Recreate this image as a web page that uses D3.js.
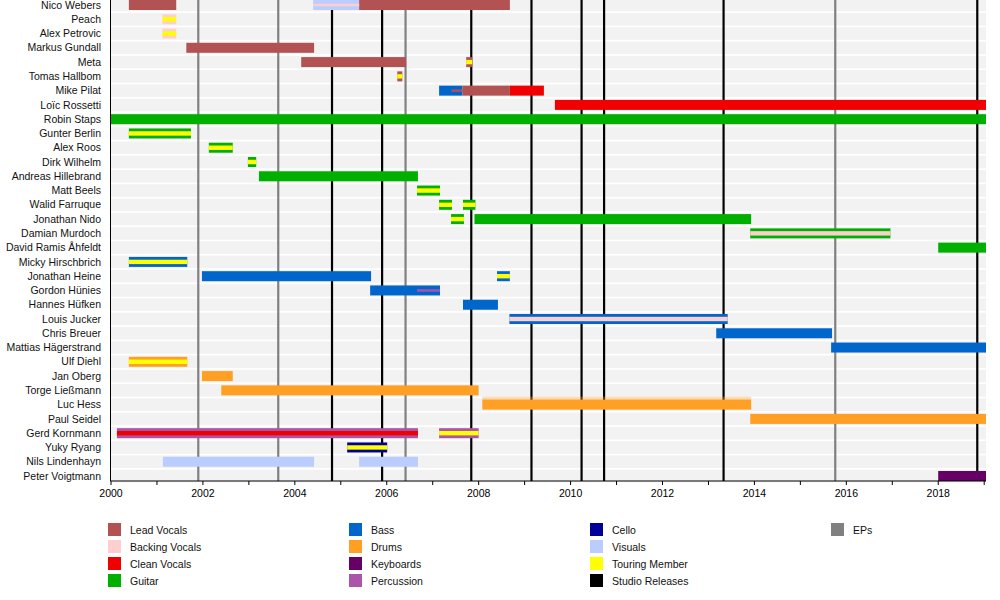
<!DOCTYPE html>
<html>
<head>
<meta charset="utf-8">
<script src="https://cdn.jsdelivr.net/npm/d3@7/dist/d3.min.js"></script>
<style>
  body { margin: 0; background: #fff; }
  svg { display: block; font-family: "Liberation Sans", Arial, sans-serif; }
  .tick text { font-size: 10.5px; fill: #000; }
  .name { font-size: 10.5px; fill: #111; }
  .legend text { font-size: 10.5px; fill: #111; }
</style>
</head>
<body>
<svg id="chart" width="1000" height="600"></svg>
<script>
const END = 2019.05

const members = [
  'Nico Webers', 'Peach', 'Alex Petrovic', 'Markus Gundall', 'Meta', 'Tomas Hallbom',
  'Mike Pilat', 'Loïc Rossetti', 'Robin Staps', 'Gunter Berlin', 'Alex Roos', 'Dirk Wilhelm',
  'Andreas Hillebrand', 'Matt Beels', 'Walid Farruque', 'Jonathan Nido', 'Damian Murdoch',
  'David Ramis Åhfeldt', 'Micky Hirschbrich', 'Jonathan Heine', 'Gordon Hünies', 'Hannes Hüfken',
  'Louis Jucker', 'Chris Breuer', 'Mattias Hägerstrand', 'Ulf Diehl', 'Jan Oberg',
  'Torge Ließmann', 'Luc Hess', 'Paul Seidel', 'Gerd Kornmann', 'Yuky Ryang',
  'Nils Lindenhayn', 'Peter Voigtmann'
]

const roles = [
  'Lead Vocals', 'Backing Vocals', 'Clean Vocals', 'Guitar',
  'Bass', 'Drums', 'Keyboards', 'Percussion',
  'Cello', 'Visuals', 'Touring Member', 'Studio Releases',
  'EPs'
]
const roleColors = [
  '#b25252', '#ffcfcf', '#f00000', '#00b000',
  '#0066cc', '#ffa024', '#660066', '#aa55aa',
  '#000099', '#bbccff', '#ffff00', '#000000',
  '#808080'
]

// full height bars: member, role, from, to
const periods = [
  ['Nico Webers', 'Lead Vocals', 2000.40, 2001.43],
  ['Nico Webers', 'Visuals', 2004.41, 2005.41],
  ['Nico Webers', 'Lead Vocals', 2005.41, 2008.69],
  ['Peach', 'Backing Vocals', 2001.13, 2001.43],
  ['Alex Petrovic', 'Backing Vocals', 2001.13, 2001.43],
  ['Markus Gundall', 'Lead Vocals', 2001.65, 2004.43],
  ['Meta', 'Lead Vocals', 2004.15, 2006.43],
  ['Meta', 'Lead Vocals', 2007.74, 2007.87],
  ['Tomas Hallbom', 'Lead Vocals', 2006.24, 2006.35],
  ['Mike Pilat', 'Bass', 2007.15, 2007.66],
  ['Mike Pilat', 'Lead Vocals', 2007.66, 2008.69],
  ['Mike Pilat', 'Clean Vocals', 2008.69, 2009.43],
  ['Loïc Rossetti', 'Clean Vocals', 2009.67, END],
  ['Robin Staps', 'Guitar', 2000.0, END],
  ['Gunter Berlin', 'Guitar', 2000.40, 2001.75],
  ['Alex Roos', 'Guitar', 2002.14, 2002.66],
  ['Dirk Wilhelm', 'Guitar', 2002.99, 2003.17],
  ['Andreas Hillebrand', 'Guitar', 2003.23, 2006.69],
  ['Matt Beels', 'Guitar', 2006.67, 2007.17],
  ['Walid Farruque', 'Guitar', 2007.15, 2007.43],
  ['Walid Farruque', 'Guitar', 2007.67, 2007.94],
  ['Jonathan Nido', 'Guitar', 2007.41, 2007.69],
  ['Jonathan Nido', 'Guitar', 2007.92, 2013.94],
  ['Damian Murdoch', 'Guitar', 2013.92, 2016.97],
  ['David Ramis Åhfeldt', 'Guitar', 2018.01, END],
  ['Micky Hirschbrich', 'Bass', 2000.40, 2001.67],
  ['Jonathan Heine', 'Bass', 2001.99, 2005.67],
  ['Jonathan Heine', 'Bass', 2008.41, 2008.69],
  ['Gordon Hünies', 'Bass', 2005.65, 2007.17],
  ['Hannes Hüfken', 'Bass', 2007.67, 2008.43],
  ['Louis Jucker', 'Bass', 2008.68, 2013.43],
  ['Chris Breuer', 'Bass', 2013.18, 2015.70],
  ['Mattias Hägerstrand', 'Bass', 2015.68, END],
  ['Ulf Diehl', 'Drums', 2000.40, 2001.67],
  ['Jan Oberg', 'Drums', 2001.99, 2002.66],
  ['Torge Ließmann', 'Drums', 2002.41, 2008.01],
  ['Luc Hess', 'Drums', 2008.09, 2013.94],
  ['Paul Seidel', 'Drums', 2013.92, END],
  ['Gerd Kornmann', 'Percussion', 2000.14, 2006.69],
  ['Gerd Kornmann', 'Percussion', 2007.15, 2008.01],
  ['Yuky Ryang', 'Cello', 2005.15, 2006.02],
  ['Nils Lindenhayn', 'Visuals', 2001.14, 2004.43],
  ['Nils Lindenhayn', 'Visuals', 2005.41, 2006.69],
  ['Peter Voigtmann', 'Keyboards', 2018.01, END]
]

// narrow bars drawn over the middle of the full ones
const stripes = [
  ['Peach', 'Touring Member', 2001.13, 2001.43],
  ['Alex Petrovic', 'Touring Member', 2001.13, 2001.43],
  ['Meta', 'Touring Member', 2007.74, 2007.87],
  ['Tomas Hallbom', 'Touring Member', 2006.24, 2006.35],
  ['Gunter Berlin', 'Touring Member', 2000.40, 2001.75],
  ['Alex Roos', 'Touring Member', 2002.14, 2002.66],
  ['Dirk Wilhelm', 'Touring Member', 2002.99, 2003.17],
  ['Matt Beels', 'Touring Member', 2006.67, 2007.17],
  ['Walid Farruque', 'Touring Member', 2007.15, 2007.43],
  ['Walid Farruque', 'Touring Member', 2007.67, 2007.94],
  ['Jonathan Nido', 'Touring Member', 2007.41, 2007.69],
  ['Damian Murdoch', 'Backing Vocals', 2013.92, 2016.97],
  ['Micky Hirschbrich', 'Touring Member', 2000.40, 2001.67],
  ['Jonathan Heine', 'Touring Member', 2008.41, 2008.69],
  ['Louis Jucker', 'Backing Vocals', 2008.68, 2013.43],
  ['Ulf Diehl', 'Touring Member', 2000.40, 2001.67],
  ['Gerd Kornmann', 'Clean Vocals', 2000.14, 2006.69],
  ['Gerd Kornmann', 'Touring Member', 2007.15, 2008.01],
  ['Yuky Ryang', 'Touring Member', 2005.15, 2006.02]
]

// very thin lines
const accents = [
  ['Nico Webers', 'Backing Vocals', 2004.41, 2005.41],
  ['Mike Pilat', 'Lead Vocals', 2007.42, 2007.66],
  ['Gordon Hünies', 'Percussion', 2006.67, 2007.17]
]

// faded band above a bar
const fades = [
  ['Luc Hess', 'Drums', 2008.09, 2013.94]
]

const studioReleases = [2004.82, 2005.91, 2007.85, 2009.16, 2010.25, 2010.74, 2013.34, 2018.86]
const eps = [2001.91, 2003.65, 2006.42, 2015.77]

const svg = d3.select('#chart')
const left = 110.5
const right = 986
const axisY = 481

const x = d3.scaleLinear().domain([2000, END]).range([left, right])
const y = d3.scalePoint().domain(members).range([5, 476])
const color = d3.scaleOrdinal().domain(roles).range(roleColors)

// row backgrounds
svg.append('g')
  .selectAll('rect')
  .data(members)
  .join('rect')
  .attr('x', left)
  .attr('width', right - left)
  .attr('y', d => y(d) - 6.3)
  .attr('height', 12.6)
  .attr('fill', '#f2f2f2')

// release lines
function releaseLines(dates, role) {
  svg.append('g')
    .selectAll('line')
    .data(dates)
    .join('line')
    .attr('x1', d => x(d))
    .attr('x2', d => x(d))
    .attr('y1', 0)
    .attr('y2', axisY)
    .attr('stroke', color(role))
    .attr('stroke-width', 2.2)
}
releaseLines(eps, 'EPs')
releaseLines(studioReleases, 'Studio Releases')

function drawBars(data, h, opacity) {
  svg.append('g')
    .selectAll('rect')
    .data(data)
    .join('rect')
    .attr('x', d => x(d[2]))
    .attr('width', d => x(d[3]) - x(d[2]))
    .attr('y', d => y(d[0]) - h / 2)
    .attr('height', h)
    .attr('fill', d => color(d[1]))
    .attr('fill-opacity', opacity)
}

// faded top of Luc Hess bar
svg.append('g')
  .selectAll('rect')
  .data(fades)
  .join('rect')
  .attr('x', d => x(d[2]))
  .attr('width', d => x(d[3]) - x(d[2]))
  .attr('y', d => y(d[0]) - 8)
  .attr('height', 4)
  .attr('fill', d => color(d[1]))
  .attr('fill-opacity', 0.35)

drawBars(periods, 10, 1)
drawBars(stripes, 4.4, 1)
drawBars(accents, 2.4, 1)

// axes
svg.append('line')
  .attr('x1', left).attr('x2', left)
  .attr('y1', 0).attr('y2', axisY)
  .attr('stroke', '#000')

const xAxis = svg.append('g')
  .attr('transform', `translate(0,${axisY})`)
  .call(d3.axisBottom(x)
    .tickValues(d3.range(2000, 2020))
    .tickSize(4)
    .tickFormat(d => (d % 2 === 0 ? d : '')))
xAxis.select('.domain').attr('d', `M${left},0H${right}`)
xAxis.selectAll('.tick text').attr('dy', '0.9em')

// member names
svg.append('g')
  .selectAll('text')
  .data(members)
  .join('text')
  .attr('class', 'name')
  .attr('x', 101)
  .attr('y', d => y(d))
  .attr('dy', '0.35em')
  .attr('text-anchor', 'end')
  .text(d => d)

// legend
const legend = svg.append('g').attr('class', 'legend')
const item = legend.selectAll('g')
  .data(roles)
  .join('g')
  .attr('transform', (d, i) => `translate(${108 + Math.floor(i / 4) * 241},${523 + (i % 4) * 17})`)
item.append('rect')
  .attr('width', 13)
  .attr('height', 13)
  .attr('fill', d => color(d))
item.append('text')
  .attr('x', 22)
  .attr('y', 7)
  .attr('dy', '0.35em')
  .text(d => d)
</script>
</body>
</html>
